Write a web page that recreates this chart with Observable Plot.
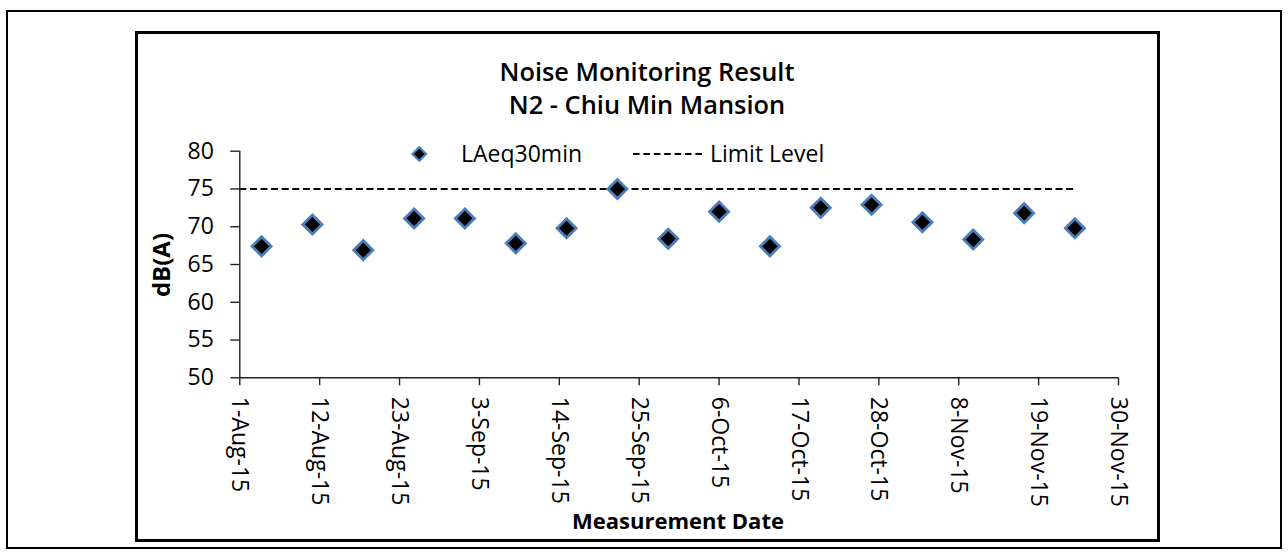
<!DOCTYPE html>
<html>
<head>
<meta charset="utf-8">
<script src="https://cdn.jsdelivr.net/npm/d3@7"></script>
<script src="https://cdn.jsdelivr.net/npm/@observablehq/plot@0.6"></script>
<style>
  html, body { margin: 0; padding: 0; background: #fff; }
  #wrap { position: relative; width: 1288px; height: 554px; overflow: hidden; font-family: "Open Sans", sans-serif; color: #000; }
  #wrap > svg { position: absolute; left: 0; top: 0; }
  .box { position: absolute; box-sizing: border-box; border: 2px solid #000; pointer-events: none; }
  .txt { position: absolute; white-space: nowrap; }
</style>
</head>
<body>
<div id="wrap"></div>
<script>
// ---- data ----
const measurementDates = ["2015-08-04","2015-08-11","2015-08-18","2015-08-25","2015-09-01","2015-09-08",
  "2015-09-15","2015-09-22","2015-09-29","2015-10-06","2015-10-13","2015-10-20","2015-10-27",
  "2015-11-03","2015-11-10","2015-11-17","2015-11-24"];
const laeq30min = [67.4,70.3,66.9,71.1,71.1,67.8,69.8,75.0,68.4,72.0,67.4,72.5,72.9,70.6,68.3,71.8,69.8];
const limitLevel = 75;
const xTickLabels = ["1-Aug-15","12-Aug-15","23-Aug-15","3-Sep-15","14-Sep-15","25-Sep-15",
  "6-Oct-15","17-Oct-15","28-Oct-15","8-Nov-15","19-Nov-15","30-Nov-15"];
const yTicks = [50,55,60,65,70,75,80];
const titleLines = ["Noise Monitoring Result","N2 - Chiu Min Mansion"];
const seriesNames = ["LAeq30min","Limit Level"];
const xTitle = "Measurement Date";
const yTitle = "dB(A)";

// ---- derived tables ----
const parseISO = d3.utcParse("%Y-%m-%d");
const parseTick = d3.utcParse("%d-%b-%y");
const points = measurementDates.map((d, i) => ({date: parseISO(d), value: laeq30min[i]}));
const tickDates = xTickLabels.map(parseTick);
const fmt = d3.utcFormat("%-d-%b-%y");
const limitRow = [{v: limitLevel, a: tickDates[0], b: points[points.length - 1].date}];

const wrap = document.getElementById("wrap");

const chart = Plot.plot({
  width: 1288,
  height: 554,
  marginLeft: 239.3,
  marginRight: 170,
  marginTop: 150.7,
  marginBottom: 176.7,
  style: {background: "transparent", fontFamily: '"Open Sans", sans-serif', fontSize: "23px", color: "#000", overflow: "visible"},
  x: {type: "utc", domain: [tickDates[0], tickDates[tickDates.length - 1]]},
  y: {domain: [yTicks[0], yTicks[yTicks.length - 1]]},
  marks: [
    Plot.ruleY(limitRow, {y: "v", x1: "a", x2: "b", stroke: "#000", strokeWidth: 2, strokeDasharray: "7,3.6"}),
    Plot.ruleX([tickDates[0]], {stroke: "#222", strokeWidth: 1.4}),
    Plot.ruleY([yTicks[0]], {stroke: "#222", strokeWidth: 1.4}),
    Plot.axisY(yTicks, {tickSize: 9, tickPadding: 17, fontSize: 23, label: null, strokeWidth: 1.4, stroke: "#222"}),
    Plot.axisX(tickDates, {tickFormat: fmt, tickRotate: 90, tickSize: 8, tickPadding: 11, fontSize: 23, label: null, strokeWidth: 1.4, stroke: "#222"}),
    Plot.dot(points, {x: "date", y: "value", symbol: "diamond2", r: 8.6, fill: "#000", stroke: "#4a7ebb", strokeWidth: 2.8})
  ]
});
wrap.appendChild(chart);

// borders
function box(l, t, w, h, bw) {
  const d = document.createElement("div");
  d.className = "box";
  Object.assign(d.style, {left: l + "px", top: t + "px", width: w + "px", height: h + "px", borderWidth: bw + "px"});
  wrap.appendChild(d);
}
box(6, 10, 1276, 539, 2);
box(134.5, 30.5, 1025, 511.7, 3);

// text helper: cy is vertical centre of capitals
function text(str, {x, cy, size, weight = 400, anchor = "middle"}) {
  const d = document.createElement("div");
  d.className = "txt";
  d.textContent = str;
  const top = cy - 0.531 * size;
  Object.assign(d.style, {fontSize: size + "px", lineHeight: size + "px", fontWeight: weight, top: top + "px", left: x + "px"});
  const tx = anchor === "middle" ? "-50%" : anchor === "end" ? "-100%" : "0";
  d.style.transform = `translateX(${tx})`;
  wrap.appendChild(d);
  return d;
}
text(titleLines[0], {x: 647, cy: 72, size: 25.4, weight: 600});
text(titleLines[1], {x: 647, cy: 105, size: 25.4, weight: 600});
text(seriesNames[0], {x: 461, cy: 154, size: 23, anchor: "start"});
text(seriesNames[1], {x: 710, cy: 154, size: 23, anchor: "start"});
text(xTitle, {x: 678, cy: 520.5, size: 22, weight: 700});

// y title rotated
(function () {
  const d = document.createElement("div");
  d.className = "txt";
  d.textContent = yTitle;
  Object.assign(d.style, {fontSize: "24px", lineHeight: "24px", fontWeight: 700, left: "161px", top: "265px",
    transform: "translate(-50%, -50%) rotate(-90deg)", transformOrigin: "0 0"});
  // rotate around its own centre
  d.style.transformOrigin = "center";
  d.style.left = "0px"; d.style.top = "0px";
  wrap.appendChild(d);
  const w = d.offsetWidth, h = d.offsetHeight;
  d.style.transform = "rotate(-90deg)";
  d.style.left = (161 - w / 2) + "px";
  d.style.top = (265 - h / 2) + "px";
})();

// legend symbols
const ns = "http://www.w3.org/2000/svg";
const lg = document.createElementNS(ns, "svg");
lg.setAttribute("width", 1288); lg.setAttribute("height", 554);
lg.style.position = "absolute"; lg.style.left = "0"; lg.style.top = "0";
const dia = document.createElementNS(ns, "path");
const cx = 419.3, cy = 154, h = 6.8;
dia.setAttribute("d", `M${cx},${cy - h}L${cx + h},${cy}L${cx},${cy + h}L${cx - h},${cy}Z`);
dia.setAttribute("fill", "#000"); dia.setAttribute("stroke", "#4a7ebb"); dia.setAttribute("stroke-width", 2.2);
lg.appendChild(dia);
const ln = document.createElementNS(ns, "line");
ln.setAttribute("x1", 633); ln.setAttribute("x2", 702); ln.setAttribute("y1", 154); ln.setAttribute("y2", 154);
ln.setAttribute("stroke", "#000"); ln.setAttribute("stroke-width", 2); ln.setAttribute("stroke-dasharray", "6.6,3.8");
lg.appendChild(ln);
wrap.appendChild(lg);
</script>
</body>
</html>
